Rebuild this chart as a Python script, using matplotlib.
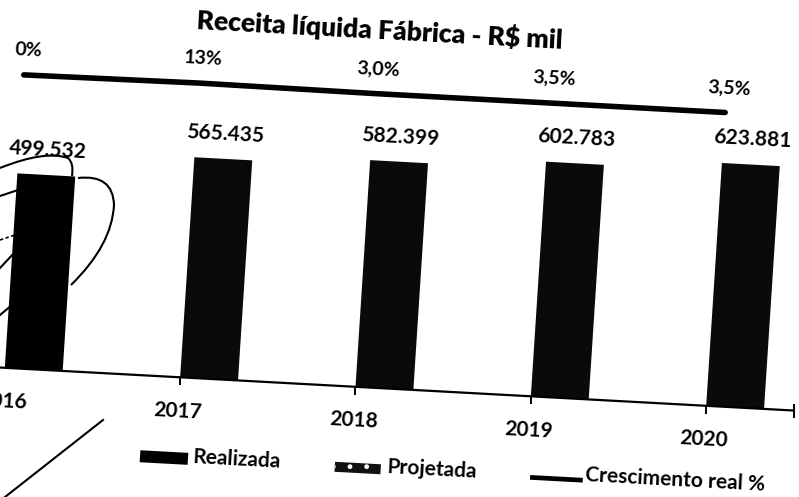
import numpy as np
import matplotlib
matplotlib.use('Agg')
import matplotlib.pyplot as plt
from matplotlib.transforms import Affine2D, IdentityTransform
from matplotlib.patches import Rectangle, PathPatch
from matplotlib.path import Path
from matplotlib.lines import Line2D

# Dados
anos = ['2016', '2017', '2018', '2019', '2020']
realizada = [499532, 0, 0, 0, 0]
projetada = [0, 565435, 582399, 602783, 623881]
crescimento = [0, 13, 3.0, 3.5, 3.5]
rotulos_cresc = ['0%', '13%', '3,0%', '3,5%', '3,5%']
series = ['Realizada', 'Projetada', 'Crescimento real %']
titulo = 'Receita líquida Fábrica - R$ mil'

plt.rcParams['font.family'] = ['Lato', 'DejaVu Sans']

W, H = 799, 497
fig = plt.figure(figsize=(W / 100, H / 100), dpi=100)

# folha digitalizada levemente torta
torto = (Affine2D().translate(-400, -249).skew_deg(0.6, 0)
         .rotate_deg(-3.1).translate(400, 249))

def desloc(dy):
    return Affine2D().translate(0, dy) + torto

x = np.arange(len(anos))
receita = np.array(realizada) + np.array(projetada)
larg = 0.33

# Barras
ax = fig.add_axes([-0.0932, 0.2173, 1.0989, 0.5493])
ax.set_xlim(-0.5, 4.5)
ax.set_ylim(0, 700000)
ax.axis('off')

b1 = ax.bar(x, realizada, width=larg, align='edge', color='black')
b2 = ax.bar(x, projetada, width=larg, align='edge', color='#0a0a0a')
for p in list(b1) + list(b2):
    p.set_transform(ax.transData + torto)
    p.set_clip_on(False)

for xi, v in zip(x, receita):
    ax.text(xi + larg / 2, v, f'{v:,}'.replace(',', '.'), ha='center',
            va='center', fontsize=15, fontweight='bold',
            transform=ax.transData + desloc(25), transform_rotates_text=True)

# eixo horizontal
ax.plot([-0.5, 4.5], [0, 0], color='black', lw=1.6,
        transform=ax.transData + torto, clip_on=False)
ax.plot(x[1:], np.zeros(len(x) - 1), ls='none', marker=3, ms=6, mew=1.4,
        color='black', transform=ax.transData + torto, clip_on=False)
ax.plot([4.5], [0], ls='none', marker='|', ms=10, mew=1.4,
        color='black', transform=ax.transData + torto, clip_on=False)
for xi, ano in zip(x, anos):
    ax.text(xi, 0, ano, ha='center', va='center', fontsize=15,
            fontweight='bold', transform=ax.transData + desloc(-34),
            transform_rotates_text=True)

# Linha de crescimento (eixo secundário)
ax2 = fig.add_axes([-0.0932, 0.7777, 1.0989, 0.0604])
ax2.set_xlim(-0.5, 4.5)
ax2.set_ylim(-150, 150)
ax2.axis('off')
ax2.plot(x, crescimento, color='black', lw=4, solid_capstyle='round',
         transform=ax2.transData + torto, clip_on=False)
for xi, v, rot in zip(x, crescimento, rotulos_cresc):
    ax2.text(xi + 0.015, v, rot, ha='center', va='center', fontsize=14,
             fontweight='bold',
             transform=ax2.transData + desloc(25), transform_rotates_text=True)

# Título
fig.text(366, H - 31, titulo, ha='center', va='center', fontsize=19,
         fontweight='heavy', transform=torto, transform_rotates_text=True)

# Legenda
leg_x = [154, 349, 547]
leg_y = 27
fig.add_artist(Rectangle((leg_x[0], leg_y - 6), 48, 12, facecolor='black',
                         edgecolor='none', transform=torto))
fig.add_artist(Rectangle((leg_x[1], leg_y - 5), 46, 10, facecolor='#111111',
                         edgecolor='white', lw=0, hatch='.', transform=torto))
fig.add_artist(Line2D([leg_x[2], leg_x[2] + 48], [leg_y, leg_y], color='black',
                      lw=3.4, transform=torto))
for lx, nome in zip(leg_x, series):
    fig.text(lx + 52, leg_y, nome, ha='left', va='center', fontsize=15,
             fontweight='bold', transform=torto,
             transform_rotates_text=True)

# anotações à caneta
def img(pts):
    return [(px, H - py) for px, py in pts]

tracos = [
    ([(0, 168), (45, 150), (68, 158), (74, 163), (72, 176)],
     [Path.MOVETO, Path.CURVE3, Path.CURVE3, Path.CURVE3, Path.CURVE3]),
    ([(78, 178), (113, 174), (114, 205), (112, 245), (71, 285)],
     [Path.MOVETO, Path.CURVE3, Path.CURVE3, Path.CURVE3, Path.CURVE3]),
]
for pts, cod in tracos:
    fig.add_artist(PathPatch(Path(img(pts), cod), facecolor='none',
                             edgecolor='black', lw=1.5,
                             transform=IdentityTransform()))
for pts in [[(0, 196), (18, 190)], [(0, 268), (15, 252)],
            [(0, 315), (12, 305)], [(103, 420), (5, 497)]]:
    xs, ys = zip(*img(pts))
    fig.add_artist(Line2D(xs, ys, color='black', lw=1.5,
                          transform=IdentityTransform()))
xs, ys = zip(*img([(0, 240), (15, 235)]))
fig.add_artist(Line2D(xs, ys, color='black', lw=1.2, ls=(0, (2, 1.5)),
                      transform=IdentityTransform()))

fig.savefig('out.png', dpi=100)
